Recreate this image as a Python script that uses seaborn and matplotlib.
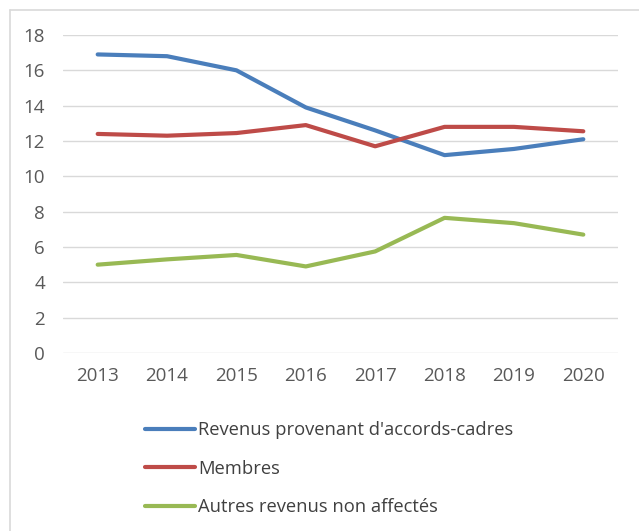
import matplotlib
matplotlib.use("Agg")
import matplotlib.pyplot as plt
import seaborn as sns
import pandas as pd
from matplotlib.lines import Line2D

years = ["2013", "2014", "2015", "2016", "2017", "2018", "2019", "2020"]
revenus_accords = [16.9, 16.8, 16.0, 13.9, 12.6, 11.2, 11.55, 12.1]
membres = [12.4, 12.3, 12.45, 12.9, 11.7, 12.8, 12.8, 12.55]
autres = [5.0, 5.3, 5.55, 4.9, 5.75, 7.65, 7.35, 6.7]
series_names = ["Revenus provenant d'accords-cadres", "Membres", "Autres revenus non affectés"]
yticks = [0, 2, 4, 6, 8, 10, 12, 14, 16, 18]

colors = ["#4A7EBB", "#BE4B48", "#98B954"]

rows = []
for name, vals in zip(series_names, [revenus_accords, membres, autres]):
    for y, v in zip(years, vals):
        rows.append({"year": y, "value": v, "series": name})
df = pd.DataFrame(rows)

sns.set_theme(style="white")
plt.rcParams["font.family"] = ["Open Sans", "DejaVu Sans"]

fig = plt.figure(figsize=(6.39, 5.31), dpi=100)
ax = fig.add_axes([63/639, 1-353/531, 555/639, 318/531])

sns.lineplot(data=df, x="year", y="value", hue="series", palette=colors,
             linewidth=3.0, ax=ax, legend=False, sort=False)

ax.set_xlim(-0.5, 7.5)
ax.set_ylim(0, 18)
ax.set_yticks(yticks)
ax.set_yticklabels([str(t) for t in yticks])
ax.grid(axis="y", color="#D9D9D9", linewidth=1.0)
ax.grid(axis="x", visible=False)
for s in ax.spines.values():
    s.set_visible(False)
ax.tick_params(axis="both", length=0, labelsize=13.5, colors="#595959")
ax.tick_params(axis="x", pad=10)
ax.tick_params(axis="y", pad=13)
ax.set_xlabel("")
ax.set_ylabel("")

# outer chart border (partial, cropped)
fig.add_artist(Line2D([10/639, 10/639], [0, 1-10/531], color="#D9D9D9", lw=1.2, transform=fig.transFigure))
fig.add_artist(Line2D([10/639, 1], [1-10/531, 1-10/531], color="#D9D9D9", lw=1.2, transform=fig.transFigure))

handles = [Line2D([], [], color=c, lw=3.0) for c in colors]
leg = fig.legend(handles, series_names, loc="upper left",
                 bbox_to_anchor=(145/639, 1-421/531), frameon=False,
                 borderpad=0, borderaxespad=0,
                 fontsize=13.2, handlelength=2.7, handletextpad=0.2,
                 labelspacing=1.13, labelcolor="#404040")

fig.savefig("out.png", dpi=100)
